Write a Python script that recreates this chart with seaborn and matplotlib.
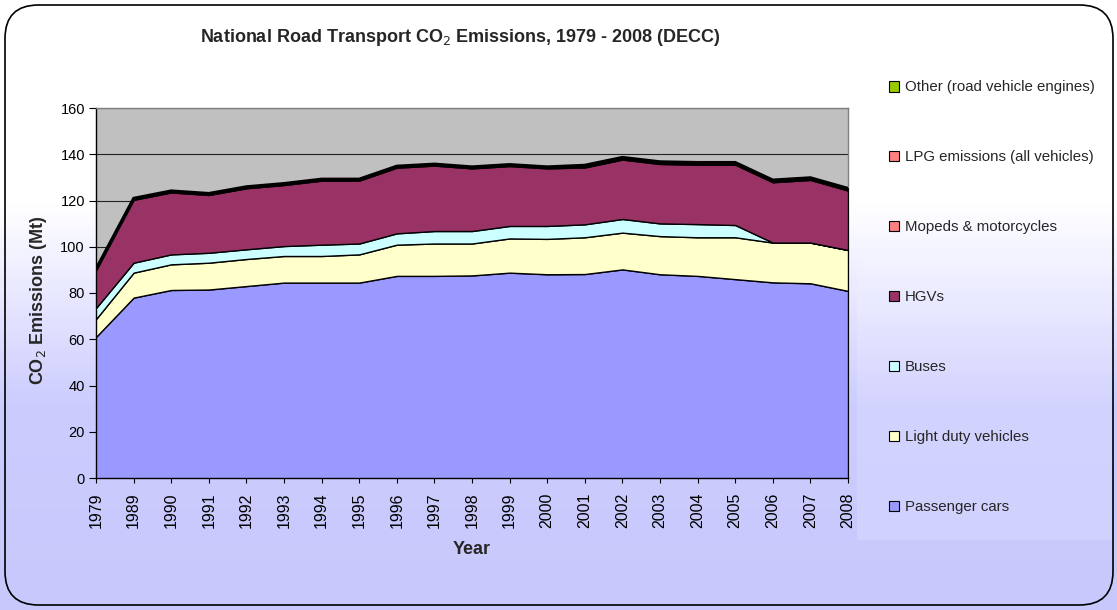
import numpy as np
import matplotlib
matplotlib.use("Agg")
import matplotlib.pyplot as plt
from matplotlib.patches import FancyBboxPatch, Patch, Rectangle
from matplotlib.colors import LinearSegmentedColormap
import seaborn as sns

years = ["1979", "1989", "1990", "1991", "1992", "1993", "1994", "1995", "1996", "1997",
         "1998", "1999", "2000", "2001", "2002", "2003", "2004", "2005", "2006", "2007", "2008"]
passenger_cars = [61.0, 78.0, 81.3, 81.5, 83.0, 84.5, 84.5, 84.5, 87.4, 87.4,
                  87.6, 88.8, 88.1, 88.2, 90.2, 88.1, 87.4, 86.0, 84.6, 84.2, 80.9]
light_duty = [7.7, 10.8, 11.1, 11.6, 11.7, 11.5, 11.5, 12.2, 13.5, 14.0,
              13.8, 14.8, 15.3, 15.9, 15.9, 16.5, 16.7, 18.1, 17.2, 17.6, 17.7]
buses = [4.8, 4.3, 4.3, 4.3, 4.2, 4.3, 4.9, 4.7, 4.9, 5.4,
         5.4, 5.4, 5.6, 5.6, 5.9, 5.5, 5.7, 5.3, 0.0, 0.0, 0.0]
hgvs = [16.3, 27.2, 26.8, 25.0, 26.4, 26.4, 27.7, 27.2, 28.4, 28.3,
        27.1, 25.9, 24.9, 24.6, 25.7, 25.7, 25.7, 26.1, 26.1, 27.1, 25.7]
mopeds = [0.6, 0.6, 0.6, 0.6, 0.6, 0.6, 0.6, 0.6, 0.6, 0.6,
          0.6, 0.6, 0.6, 0.6, 0.6, 0.6, 0.6, 0.6, 0.6, 0.6, 0.6]
lpg = [0.0, 0.0, 0.0, 0.0, 0.0, 0.0, 0.0, 0.0, 0.0, 0.0,
       0.0, 0.0, 0.0, 0.3, 0.3, 0.3, 0.3, 0.3, 0.3, 0.3, 0.3]
other = [0.1, 0.1, 0.1, 0.1, 0.1, 0.1, 0.1, 0.1, 0.1, 0.1,
         0.1, 0.1, 0.1, 0.1, 0.1, 0.1, 0.1, 0.1, 0.1, 0.1, 0.1]

series_names = ["Passenger cars", "Light duty vehicles", "Buses", "HGVs",
                "Mopeds & motorcycles", "LPG emissions (all vehicles)",
                "Other (road vehicle engines)"]
series_colors = ["#9999FF", "#FFFFCC", "#CCFFFF", "#993366", "#FF8080", "#FF8080", "#99CC00"]

sns.set_theme(style="white")
plt.rcParams["font.family"] = ["Liberation Sans", "DejaVu Sans"]

fig = plt.figure(figsize=(11.17, 6.10), dpi=100)

# background gradient
bg = fig.add_axes([0, 0, 1, 1], zorder=-10)
grad = np.linspace(0, 1, 256).reshape(-1, 1)
cmap = LinearSegmentedColormap.from_list("bg", ["#FFFFFF", "#FFFFFF", "#CCCCFF", "#C8C8FC"], N=256)
bg.imshow(grad, aspect="auto", cmap=cmap, extent=[0, 1, 0, 1], origin="upper")
bg.set_xlim(0, 1)
bg.set_ylim(0, 1)
bg.axis("off")
bg.add_patch(Rectangle((857 / 1117, 1 - 540 / 610), 255 / 1117, 480 / 610,
                       facecolor="white", alpha=0.15, edgecolor="none"))
border = FancyBboxPatch((5 / 1117, 5 / 610), 1108 / 1117, 600 / 610,
                        boxstyle="round,pad=0,rounding_size=0.03",
                        facecolor="none", edgecolor="black", linewidth=1.2,
                        transform=bg.transAxes, mutation_aspect=1117 / 610)
bg.add_patch(border)

ax = fig.add_axes([96 / 1117, 1 - 478 / 610, 752 / 1117, 370 / 610])
ax.set_facecolor("#C0C0C0")
x = np.arange(len(years))
data = [passenger_cars, light_duty, buses, hgvs, mopeds, lpg, other]
ax.stackplot(x, *data, colors=series_colors, edgecolor="black", linewidth=1.0, zorder=3)
total = np.sum(np.array(data), axis=0)
sns.lineplot(x=x, y=total, ax=ax, color="black", linewidth=2.0, zorder=4)

ax.set_xlim(0, len(years) - 1)
ax.set_ylim(0, 160)
ax.set_yticks(np.arange(0, 161, 20))
ax.yaxis.grid(True, color="#222222", linewidth=0.8, zorder=1)
ax.xaxis.grid(False)
ax.set_axisbelow(True)
ax.set_xticks(x)
ax.set_xticklabels(years, rotation=90, fontsize=11.5)
ax.tick_params(axis="y", labelsize=10.5, length=5, width=0.8, direction="out", left=True,
               colors="black", pad=3)
ax.tick_params(axis="x", length=3.6, width=0.8, direction="out", bottom=True, colors="black", pad=7)
for s in ["left", "bottom"]:
    ax.spines[s].set_color("black")
    ax.spines[s].set_linewidth(1.0)
for s in ["top", "right"]:
    ax.spines[s].set_color("#808080")
    ax.spines[s].set_linewidth(1.0)

ax.set_xlabel("")
ax.set_ylabel("")
fig.text(472 / 1117, 1 - 549 / 610, "Year", ha="center", va="center",
         fontsize=13, fontweight="bold")
fig.text(39 / 1117, 1 - 300 / 610, "CO$_2$ Emissions (Mt)", ha="center", va="center",
         rotation=90, fontsize=13, fontweight="bold")

fig.text(460 / 1117, 1 - 37 / 610, "National Road Transport CO$_2$ Emissions, 1979 - 2008 (DECC)",
         ha="center", va="center", fontsize=13, fontweight="bold")

handles = [Patch(facecolor=c, edgecolor="black", linewidth=0.8, label=n)
           for n, c in zip(series_names, series_colors)]
leg = fig.legend(handles=handles[::-1], loc="upper left", bbox_to_anchor=(881 / 1117, 1 - 73 / 610),
                 frameon=False, fontsize=10.8, labelspacing=3.73, handlelength=0.7,
                 handleheight=0.7, handletextpad=0.4, borderpad=0)

fig.savefig("out.png", dpi=100)
